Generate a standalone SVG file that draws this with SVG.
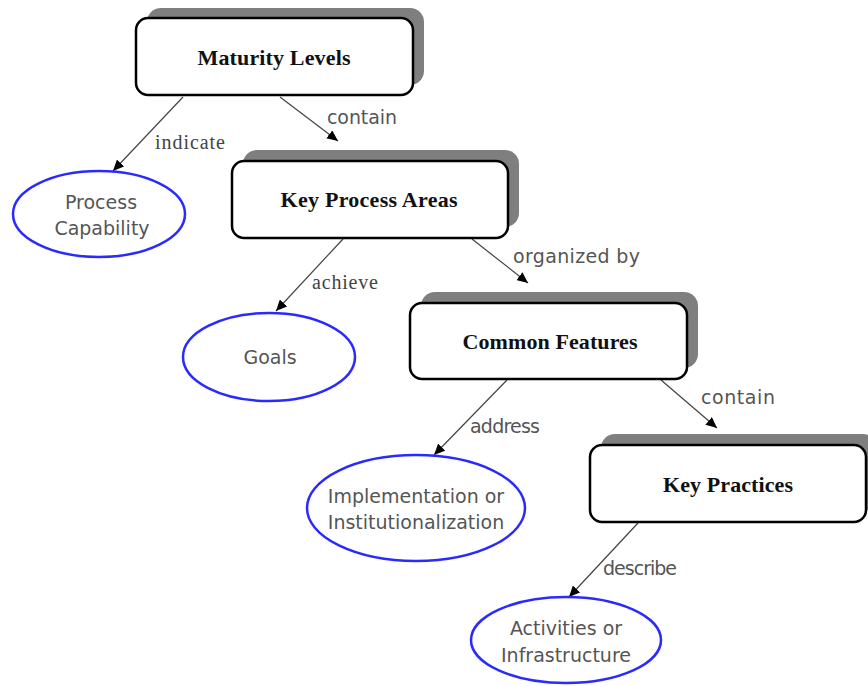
<svg xmlns="http://www.w3.org/2000/svg" width="868" height="686" viewBox="0 0 868 686">
<style>
.shadow{fill:#7f7f7f}
.box{fill:#fff;stroke:#000;stroke-width:2.5}
.title{font-family:"Liberation Serif","Times New Roman",serif;font-weight:bold;font-size:22px;fill:#111;text-anchor:middle}
.ell{fill:#fff;stroke:#2a2aff;stroke-width:2.5}
.etext{font-family:"DejaVu Sans",Verdana,sans-serif;font-size:19px;fill:#555;text-anchor:middle}
.edge{stroke:#444;stroke-width:1.2;fill:none;marker-end:url(#arr)}
.lserif{font-family:"Liberation Serif","Times New Roman",serif;font-size:20px;fill:#444}
.lsans{font-family:"DejaVu Sans",Verdana,sans-serif;font-size:19px;fill:#555}
</style>
<defs>
<marker id="arr" markerUnits="userSpaceOnUse" markerWidth="12" markerHeight="10" refX="11" refY="5" orient="auto">
<path d="M0,0 L11,5 L0,10 z" fill="#000"/>
</marker>
</defs>
<rect width="868" height="686" fill="#fff"/>
<g id="connectors">
<line class="edge" x1="183" y1="97" x2="113" y2="171"/>
<line class="edge" x1="280" y1="97" x2="338" y2="141"/>
<line class="edge" x1="343" y1="239" x2="276" y2="311"/>
<line class="edge" x1="472" y1="239" x2="528" y2="283"/>
<line class="edge" x1="507" y1="380" x2="434" y2="455"/>
<line class="edge" x1="661" y1="380" x2="717" y2="428"/>
<line class="edge" x1="638" y1="523" x2="569" y2="597"/>
<text class="lserif" x="155" y="149" textLength="70">indicate</text>
<text class="lsans" x="327" y="124" textLength="70">contain</text>
<text class="lserif" x="312" y="289" textLength="66">achieve</text>
<text class="lsans" x="513" y="263" textLength="127">organized by</text>
<text class="lsans" x="470" y="433" font-size="17.5" textLength="70">address</text>
<text class="lsans" x="701" y="404" textLength="74">contain</text>
<text class="lsans" x="603" y="575" font-size="17.5" textLength="74">describe</text>
</g>
<g id="maturity-levels">
<rect class="shadow" x="147" y="8" width="277" height="77" rx="14"/>
<rect class="box" x="136" y="18" width="277" height="77" rx="12"/>
<text class="title" x="274" y="65" textLength="153">Maturity Levels</text>
</g>
<g id="key-process-areas">
<rect class="shadow" x="243" y="150" width="276" height="77" rx="14"/>
<rect class="box" x="232" y="161" width="276" height="77" rx="12"/>
<text class="title" x="369" y="207" textLength="177">Key Process Areas</text>
</g>
<g id="common-features">
<rect class="shadow" x="421" y="292" width="277" height="76" rx="14"/>
<rect class="box" x="410" y="303" width="277" height="76" rx="12"/>
<text class="title" x="550" y="349" textLength="175">Common Features</text>
</g>
<g id="key-practices">
<rect class="shadow" x="601" y="434" width="276" height="77" rx="14"/>
<rect class="box" x="590" y="445" width="276" height="77" rx="12"/>
<text class="title" x="728" y="492" textLength="130">Key Practices</text>
</g>
<g id="process-capability">
<ellipse class="ell" cx="99" cy="214" rx="86" ry="43"/>
<text class="etext" x="101" y="209">Process</text>
<text class="etext" x="102" y="235">Capability</text>
</g>
<g id="goals">
<ellipse class="ell" cx="269" cy="357" rx="86" ry="44"/>
<text class="etext" x="270" y="364">Goals</text>
</g>
<g id="implementation">
<ellipse class="ell" cx="416" cy="508" rx="109" ry="53"/>
<text class="etext" x="416" y="503">Implementation or</text>
<text class="etext" x="416" y="529">Institutionalization</text>
</g>
<g id="activities">
<ellipse class="ell" cx="566" cy="640" rx="95" ry="43"/>
<text class="etext" x="566" y="635">Activities or</text>
<text class="etext" x="566" y="662">Infrastructure</text>
</g>
</svg>
